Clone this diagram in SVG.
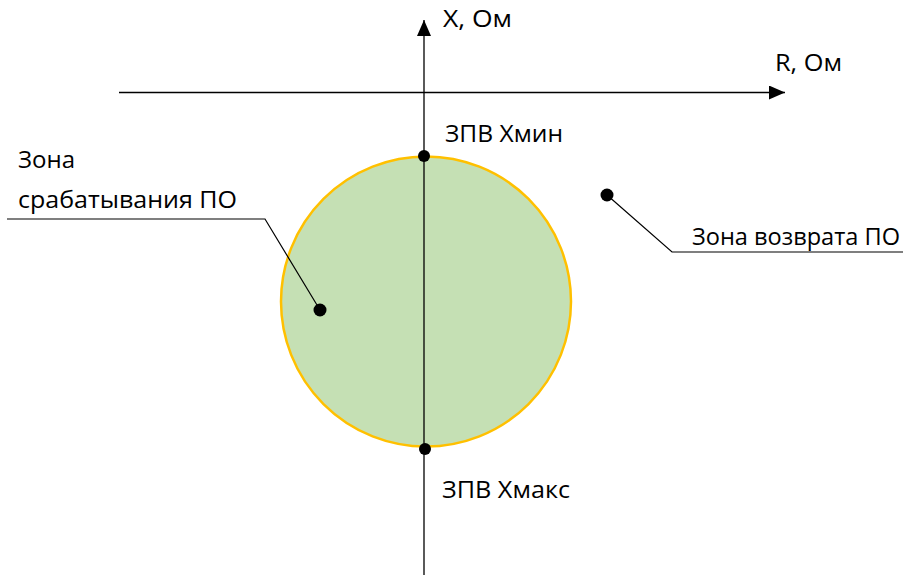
<svg xmlns="http://www.w3.org/2000/svg" width="916" height="577" viewBox="0 0 916 577">
<style>
.t{font-family:"Open Sans","Liberation Sans",sans-serif;font-size:24.5px;fill:#000}
.ax{stroke:#000;stroke-width:1.3;fill:none}
.ld{stroke:#000;stroke-width:1.2;fill:none}
.dot{fill:#000}
</style>
<defs>
<marker id="ah2" viewBox="0 0 16 14" refX="16" refY="7" markerWidth="16" markerHeight="14" markerUnits="userSpaceOnUse" orient="auto"><path d="M0,0 L16,7 L0,14 z" fill="#000"/></marker>
</defs>
<g id="zone">
<circle cx="426" cy="301.5" r="145" fill="#C5E0B4" stroke="#FFC000" stroke-width="2.5"/>
</g>
<g id="connectors">
<line class="ax" x1="424" y1="575" x2="424" y2="20" marker-end="url(#ah2)"/>
<line class="ax" x1="119" y1="92.5" x2="785" y2="92.5" marker-end="url(#ah2)"/>
<polyline class="ld" points="7,219 265,219 320,310"/>
<polyline class="ld" points="607,195 672,252 903,252"/>
</g>
<g id="dots">
<circle class="dot" cx="424" cy="156" r="6"/>
<circle class="dot" cx="425" cy="449" r="6"/>
<circle class="dot" cx="320" cy="310" r="6.5"/>
<circle class="dot" cx="607" cy="195" r="6.5"/>
</g>
<g id="labels">
<text class="t" x="443" y="27" textLength="69" lengthAdjust="spacingAndGlyphs">X, Ом</text>
<text class="t" x="775" y="71" textLength="67" lengthAdjust="spacingAndGlyphs">R, Ом</text>
<text class="t" x="445" y="142" textLength="118" lengthAdjust="spacingAndGlyphs">ЗПВ Хмин</text>
<text class="t" x="18" y="168" textLength="57" lengthAdjust="spacingAndGlyphs">Зона</text>
<text class="t" x="18" y="208" textLength="219" lengthAdjust="spacingAndGlyphs">срабатывания ПО</text>
<text class="t" x="692" y="245" textLength="208" lengthAdjust="spacingAndGlyphs">Зона возврата ПО</text>
<text class="t" x="442" y="498" textLength="128" lengthAdjust="spacingAndGlyphs">ЗПВ Хмакс</text>
</g>
</svg>
